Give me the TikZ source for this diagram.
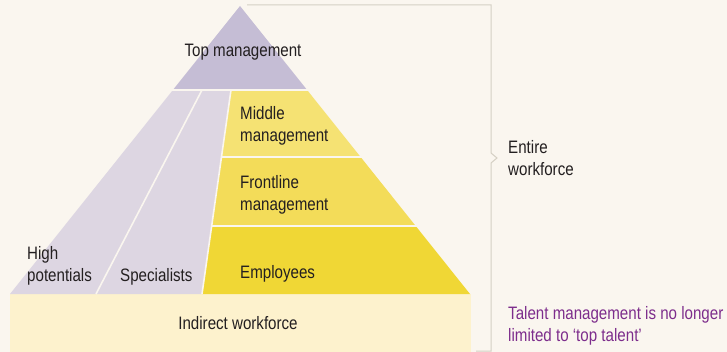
\documentclass[tikz,border=0pt]{standalone}
\usepackage{fontspec}
\setmainfont{Liberation Sans}[FakeStretch=0.84]
\definecolor{bg}{HTML}{FAF6EF}
\definecolor{toppurple}{HTML}{C5BDD5}
\definecolor{lightpurple}{HTML}{DDD6E2}
\definecolor{ymid}{HTML}{F5E273}
\definecolor{yfront}{HTML}{F3DC59}
\definecolor{yemp}{HTML}{F0D735}
\definecolor{indirect}{HTML}{FDF2CD}
\definecolor{txt}{HTML}{231F20}
\definecolor{accent}{HTML}{7D2D8C}
\definecolor{bracket}{HTML}{D5D0C4}
\tikzset{
  lbl/.style={font=\fontsize{18}{22}\selectfont, text=txt, inner sep=0pt, align=left, anchor=base west},
  sep/.style={draw=bg, line width=1.6pt},
}
\begin{document}
\begin{tikzpicture}[x=1pt,y=-1pt]
\fill[bg] (0,0) rectangle (727,352);
\useasboundingbox (0,0) rectangle (727,352);
% indirect workforce band
\fill[indirect] (10,294) rectangle (471,352);
% light purple left part
\fill[lightpurple] (172.9,90) -- (231,90) -- (202,294) -- (10,294) -- cycle;
% yellow bands
\fill[ymid] (231,90) -- (307.1,90) -- (360.6,157) -- (221.5,157) -- cycle;
\fill[yfront] (221.5,157) -- (360.6,157) -- (415.7,226) -- (211.7,226) -- cycle;
\fill[yemp] (211.7,226) -- (415.7,226) -- (470,294) -- (202,294) -- cycle;
% top triangle
\fill[toppurple] (240,6) -- (307.1,90) -- (172.9,90) -- cycle;
% separators
\draw[sep] (170,90) -- (310,90);
\draw[sep] (202,90) -- (96,294);
\draw[sep] (231,90) -- (202,294);
\draw[sep] (221.5,157) -- (362,157);
\draw[sep] (211.7,226) -- (417,226);
% bracket
\draw[bracket, line width=1pt] (247,5) -- (491,5) -- (491,153) -- (497,158) -- (491,163) -- (491,351) -- (476,351);
% labels (multi-line nodes: base = last line's baseline)
\node[lbl, anchor=base] (top) at (243,57) {Top management};
\node[lbl] (mid) at (240,142) {Middle\\management};
\node[lbl] (front) at (240,211) {Frontline\\management};
\node[lbl] (emp) at (240,279) {Employees};
\node[lbl] (high) at (27,281) {High\\potentials};
\node[lbl] (spec) at (120,281) {Specialists};
\node[lbl, anchor=base] (ind) at (238,329) {Indirect workforce};
\node[lbl] (entire) at (508,176) {Entire\\workforce};
\node[lbl, text=accent] (talent) at (508,341) {Talent management is no longer\\limited to ‘top talent’};
\end{tikzpicture}
\end{document}
